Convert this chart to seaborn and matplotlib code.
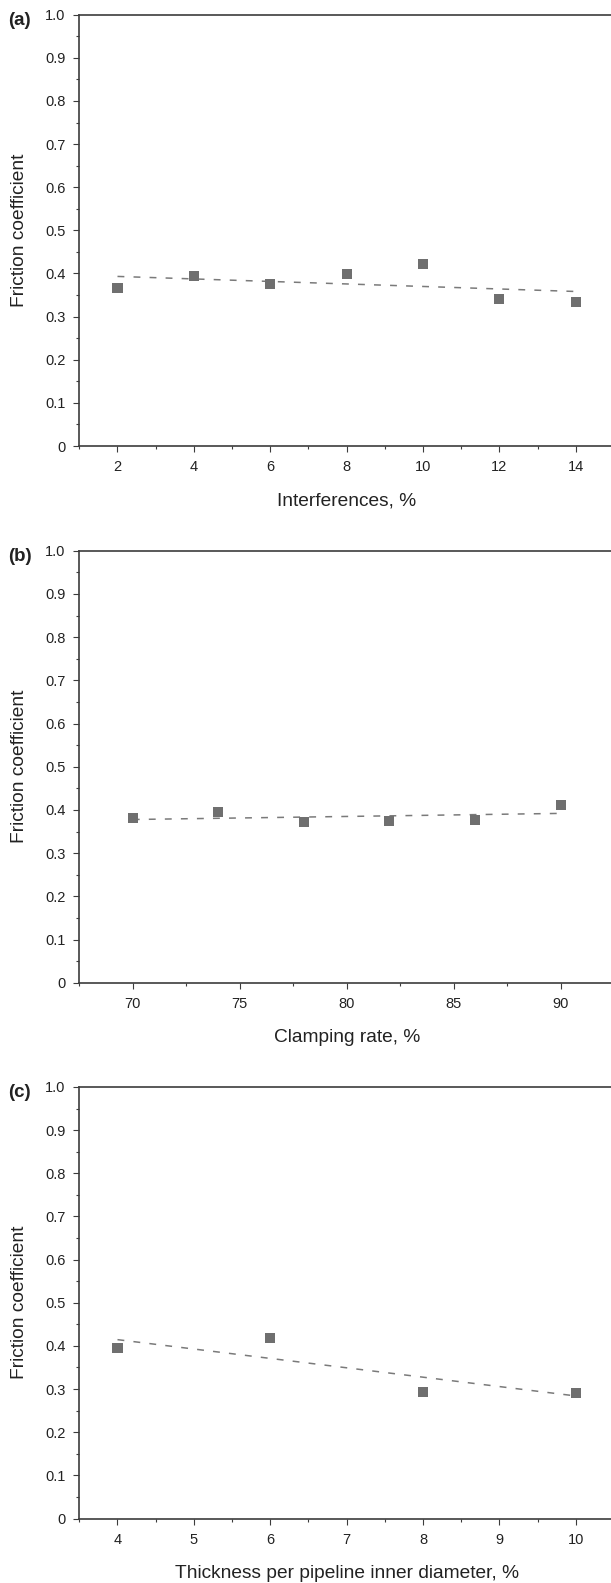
import matplotlib
matplotlib.use("Agg")
import matplotlib.pyplot as plt
import seaborn as sns
import numpy as np
import pandas as pd
from matplotlib.ticker import MultipleLocator, FuncFormatter

# ---- data ----
interference = [2, 4, 6, 8, 10, 12, 14]
friction_a = [0.367, 0.394, 0.376, 0.398, 0.421, 0.341, 0.333]

clamping = [70, 74, 78, 82, 86, 90]
friction_b = [0.381, 0.394, 0.372, 0.375, 0.376, 0.411]

thickness = [4, 6, 8, 10]
friction_c = [0.394, 0.419, 0.293, 0.291]

panel_tags = ["(a)", "(b)", "(c)"]
x_titles = ["Interferences, %", "Clamping rate, %", "Thickness per pipeline inner diameter, %"]
y_title = "Friction coefficient"

sns.set_style("ticks")
plt.rcParams["font.family"] = ["Liberation Sans", "DejaVu Sans"]

W, H = 611, 1583
fig = plt.figure(figsize=(W / 100, H / 100), dpi=100)

spine_c = "#3c3c3c"
text_c = "#222222"
marker_c = "#6f6f6f"
line_c = "#7a7a7a"

panels = [
    dict(x=interference, y=friction_a, xlim=(1, 15), major=2, minor=1, top=14.7, bottom=446.0),
    dict(x=clamping, y=friction_b, xlim=(67.5, 92.5), major=5, minor=2.5, top=550.7, bottom=982.7),
    dict(x=thickness, y=friction_c, xlim=(3.5, 10.5), major=1, minor=0.5, top=1087.0, bottom=1518.5),
]

left_px, right_px = 79.3, 614.0

for i, p in enumerate(panels):
    ax = fig.add_axes([left_px / W, 1 - p["bottom"] / H,
                       (right_px - left_px) / W, (p["bottom"] - p["top"]) / H])
    df = pd.DataFrame({"x": p["x"], "y": p["y"]})
    sns.regplot(data=df, x="x", y="y", ax=ax, scatter=False, ci=None,
                line_kws=dict(color=line_c, lw=1.1, linestyle=(0, (4.5, 6.0))))
    sns.scatterplot(data=df, x="x", y="y", ax=ax, marker="s", s=52,
                    color=marker_c, edgecolor="none", linewidth=0, zorder=3)
    ax.set_xlim(*p["xlim"])
    ax.set_ylim(0, 1.0)
    ax.xaxis.set_major_locator(MultipleLocator(p["major"]))
    ax.xaxis.set_minor_locator(MultipleLocator(p["minor"]))
    ax.yaxis.set_major_locator(MultipleLocator(0.1))
    ax.yaxis.set_minor_locator(MultipleLocator(0.05))
    ax.yaxis.set_major_formatter(FuncFormatter(lambda v, pos: "0" if abs(v) < 1e-9 else f"{v:.1f}"))
    ax.xaxis.set_major_formatter(FuncFormatter(lambda v, pos: f"{v:g}"))

    for side in ["left", "bottom", "top"]:
        ax.spines[side].set_color(spine_c)
        ax.spines[side].set_linewidth(1.2)
    ax.spines["top"].set_visible(True)
    ax.spines["right"].set_visible(False)

    ax.tick_params(axis="both", which="major", direction="out", length=4.3, width=0.8,
                   color=spine_c, labelsize=10.5, labelcolor=text_c)
    ax.tick_params(axis="x", which="major", pad=6)
    ax.tick_params(axis="y", which="major", pad=5.5)
    ax.tick_params(axis="both", which="minor", direction="out", length=2.2, width=0.8, color=spine_c)
    ax.tick_params(top=False, right=False, which="both")

    ax.set_xlabel(x_titles[i], fontsize=13.8, color=text_c)
    ax.set_ylabel(y_title, fontsize=13.8, color=text_c)
    hpx = p["bottom"] - p["top"]
    wpx = right_px - left_px
    ax.xaxis.set_label_coords(0.5, -54.7 / hpx)
    ax.xaxis.label.set_va("center")
    ax.yaxis.set_label_coords((20 - left_px) / wpx, 0.5)
    ax.yaxis.label.set_va("center")
    ax.yaxis.label.set_ha("center")

    fig.text(8 / W, 1 - (p["top"] + 5.5) / H, panel_tags[i], ha="left", va="center",
             fontsize=13.5, fontweight="bold", color=text_c)

fig.savefig("out.png", dpi=100)
